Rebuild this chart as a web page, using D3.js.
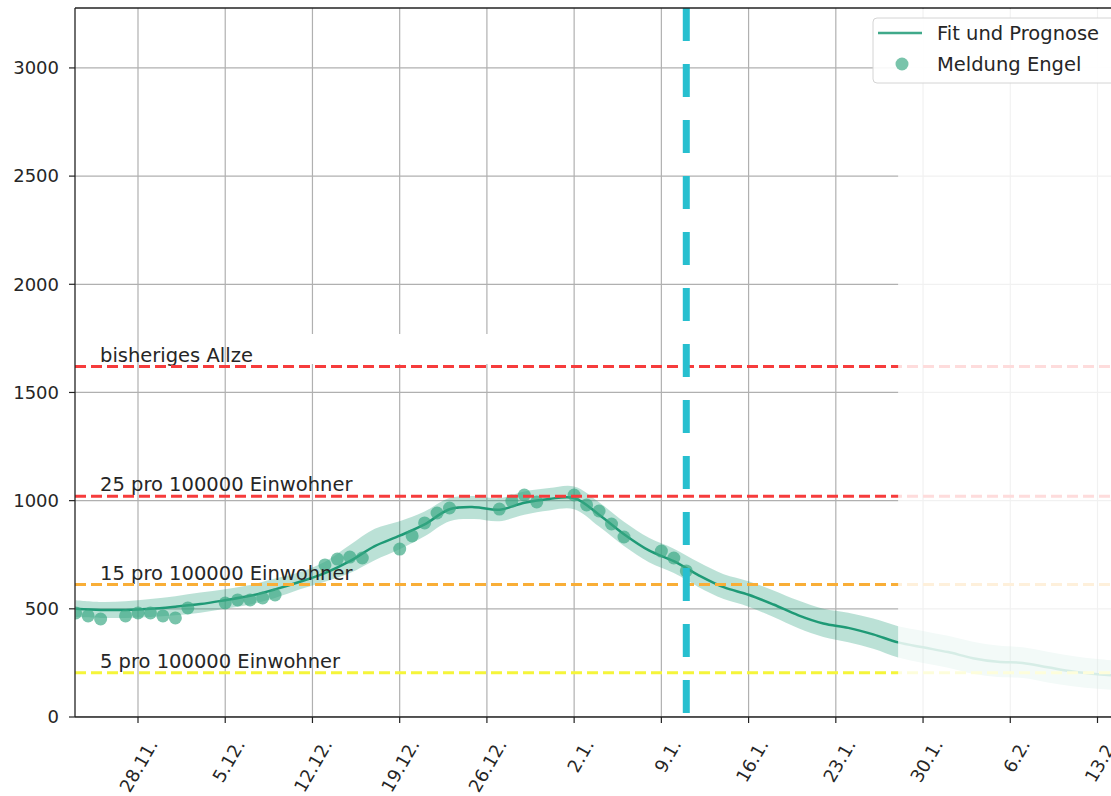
<!DOCTYPE html>
<html>
<head>
<meta charset="utf-8">
<script src="https://cdn.jsdelivr.net/npm/d3@7"></script>
<style>
  body { margin: 0; background: #fff; }
  svg { display: block; }
  text { font-family: "DejaVu Sans", sans-serif; fill: #262626; }
</style>
</head>
<body>
<svg id="chart" width="1111" height="796"></svg>
<script>
// Fit and forecast (every second day) with its uncertainty band
const fitDates = [
  "2020-11-23","2020-11-25","2020-11-27","2020-11-29","2020-12-01","2020-12-03","2020-12-05",
  "2020-12-07","2020-12-09","2020-12-11","2020-12-13","2020-12-15","2020-12-17","2020-12-19",
  "2020-12-21","2020-12-23","2020-12-25","2020-12-27","2020-12-29","2020-12-31","2021-01-02",
  "2021-01-04","2021-01-06","2021-01-08","2021-01-10","2021-01-12","2021-01-14","2021-01-16",
  "2021-01-18","2021-01-20","2021-01-22","2021-01-24","2021-01-26","2021-01-28","2021-01-30",
  "2021-02-01","2021-02-03","2021-02-05","2021-02-07","2021-02-09","2021-02-11","2021-02-13",
  "2021-02-15"
];
const fitValues = [
  500, 495, 495, 500, 510, 522, 540, 560, 590, 625, 665, 720, 790, 838,
  890, 960, 970, 958, 990, 1008, 1012, 935, 845, 770, 720, 655, 600, 565,
  520, 470, 432, 412, 382, 345, 322, 300, 272, 255, 250, 230, 210, 198, 188
];
const fitLower = [
  462, 458, 458, 462, 470, 482, 500, 520, 550, 590, 625, 665, 725, 775,
  835, 905, 915, 905, 935, 955, 960, 880, 790, 715, 665, 600, 545, 510,
  462, 410, 370, 345, 315, 275, 250, 228, 200, 185, 180, 160, 142, 130, 122
];
const fitUpper = [
  540, 532, 535, 545, 558, 575, 590, 610, 640, 670, 718, 795, 870, 905,
  950, 1012, 1022, 1012, 1042, 1058, 1065, 992, 902, 828, 778, 715, 660, 628,
  585, 538, 500, 482, 455, 420, 398, 375, 348, 330, 322, 302, 282, 268, 258
];

// Daily reports
const reportDates = [
  "2020-11-23","2020-11-24","2020-11-25","2020-11-27","2020-11-28","2020-11-29","2020-11-30",
  "2020-12-01","2020-12-02","2020-12-05","2020-12-06","2020-12-07","2020-12-08","2020-12-09",
  "2020-12-13","2020-12-14","2020-12-15","2020-12-16","2020-12-19","2020-12-20","2020-12-21",
  "2020-12-22","2020-12-23","2020-12-27","2020-12-28","2020-12-29","2020-12-30","2021-01-02",
  "2021-01-03","2021-01-04","2021-01-05","2021-01-06","2021-01-09","2021-01-10","2021-01-11"
];
const reportValues = [
  481, 467, 453, 467, 481, 481, 467, 458, 504, 527, 541, 541, 550, 564,
  703, 730, 739, 735, 776, 837, 897, 943, 966, 961, 998, 1026, 994, 1026,
  980, 952, 892, 832, 767, 735, 675
];

// Axis ticks
const xTickDates = [
  "2020-11-28","2020-12-05","2020-12-12","2020-12-19","2020-12-26","2021-01-02",
  "2021-01-09","2021-01-16","2021-01-23","2021-01-30","2021-02-06","2021-02-13"
];
const xTickLabels = ["28.11.","5.12.","12.12.","19.12.","26.12.","2.1.","9.1.","16.1.","23.1.","30.1.","6.2.","13.2."];
const yTickValues = [0, 500, 1000, 1500, 2000, 2500, 3000];

// Reference levels
const thresholdValues = [1620, 1020, 612, 204];
const thresholdLabels = ["bisheriges Allzeithoch", "25 pro 100000 Einwohner", "15 pro 100000 Einwohner", "5 pro 100000 Einwohner"];
const thresholdColors = ["#f63c3c", "#f63c3c", "#f9ae37", "#f5f53a"];

const markerDate = "2021-01-11";
const fadeStartDate = "2021-01-28";

const legendLabels = ["Fit und Prognose", "Meldung Engel"];

// ---------- drawing ----------
function drawChart() {
  const W = 1111, H = 796;
  const pLeft = 75, pTop = 8, pBottom = 717, pRight = 1111;
  const fitColor = "#1f9a76";
  const dotColor = "#3aa883";

  const svg = d3.select("#chart");
  const parse = d3.utcParse("%Y-%m-%d");

  const x = d3.scaleUtc()
    .domain([parse("2020-11-28"), parse("2021-02-13")])
    .range([138, 1097.5]);
  const y = d3.scaleLinear().domain([0, 3277]).range([pBottom, pTop]);

  svg.append("rect").attr("width", W).attr("height", H).attr("fill", "#fff");

  svg.append("defs").append("clipPath").attr("id", "plotClip")
    .append("rect").attr("x", pLeft).attr("y", pTop).attr("width", pRight - pLeft).attr("height", pBottom - pTop);

  const plot = svg.append("g").attr("clip-path", "url(#plotClip)");

  // grid
  plot.append("g").selectAll("line").data(xTickDates).join("line")
    .attr("x1", d => x(parse(d))).attr("x2", d => x(parse(d)))
    .attr("y1", pTop).attr("y2", pBottom)
    .attr("stroke", "#b0b0b0").attr("stroke-width", 1.2);
  plot.append("g").selectAll("line").data(yTickValues).join("line")
    .attr("x1", pLeft).attr("x2", pRight)
    .attr("y1", d => y(d)).attr("y2", d => y(d))
    .attr("stroke", "#b0b0b0").attr("stroke-width", 1.2);

  // band + fit line
  const fitRows = fitDates.map((d, i) => ({ t: parse(d), v: fitValues[i], lo: fitLower[i], hi: fitUpper[i] }));
  plot.append("path").datum(fitRows)
    .attr("d", d3.area().curve(d3.curveCatmullRom).x(d => x(d.t)).y0(d => y(d.lo)).y1(d => y(d.hi)))
    .attr("fill", fitColor).attr("fill-opacity", 0.3);
  plot.append("path").datum(fitRows)
    .attr("d", d3.line().curve(d3.curveCatmullRom).x(d => x(d.t)).y(d => y(d.v)))
    .attr("fill", "none").attr("stroke", fitColor).attr("stroke-width", 2.5);

  // reports
  plot.append("g").selectAll("circle")
    .data(reportDates.map((d, i) => ({ t: parse(d), v: reportValues[i] }))).join("circle")
    .attr("cx", d => x(d.t)).attr("cy", d => y(d.v)).attr("r", 6.5)
    .attr("fill", dotColor).attr("fill-opacity", 0.68);

  // threshold labels
  plot.append("g").selectAll("text").data(thresholdValues).join("text")
    .attr("x", 100).attr("y", d => y(d) - 5)
    .attr("font-size", 19.5)
    .text((d, i) => thresholdLabels[i]);

  // partial white patch over the first label
  plot.append("rect").attr("x", 253).attr("y", 334).attr("width", 237).attr("height", 30).attr("fill", "#fff");

  // threshold lines
  plot.append("g").selectAll("line").data(thresholdValues).join("line")
    .attr("x1", pLeft).attr("x2", pRight)
    .attr("y1", d => y(d)).attr("y2", d => y(d))
    .attr("stroke", (d, i) => thresholdColors[i])
    .attr("stroke-width", 3)
    .attr("stroke-dasharray", "11 5");

  // faded forecast region
  const fadeX = x(parse(fadeStartDate));
  plot.append("rect").attr("x", fadeX).attr("y", pTop + 1).attr("width", pRight - fadeX).attr("height", pBottom - pTop - 2)
    .attr("fill", "#fff").attr("fill-opacity", 0.82);

  // vertical marker
  plot.append("line")
    .attr("x1", x(parse(markerDate))).attr("x2", x(parse(markerDate)))
    .attr("y1", pTop).attr("y2", pBottom - 3)
    .attr("stroke", "#27bfcf").attr("stroke-width", 7)
    .attr("stroke-dasharray", "33 23");

  // spines
  svg.append("line").attr("x1", pLeft).attr("x2", pRight).attr("y1", pTop).attr("y2", pTop).attr("stroke", "#222").attr("stroke-width", 1.3);
  svg.append("line").attr("x1", pLeft).attr("x2", pLeft).attr("y1", pTop).attr("y2", pBottom).attr("stroke", "#222").attr("stroke-width", 1.3);
  svg.append("line").attr("x1", pLeft).attr("x2", pRight).attr("y1", pBottom).attr("y2", pBottom).attr("stroke", "#222").attr("stroke-width", 1.3);

  // y ticks
  const yt = svg.append("g").selectAll("g").data(yTickValues).join("g")
    .attr("transform", d => `translate(0,${y(d)})`);
  yt.append("line").attr("x1", pLeft - 6).attr("x2", pLeft).attr("stroke", "#222").attr("stroke-width", 1.2);
  yt.append("text").attr("x", 59).attr("dy", "0.35em").attr("text-anchor", "end")
    .attr("font-size", 18).text(d => d);

  // x ticks
  const xt = svg.append("g").selectAll("g").data(xTickDates).join("g")
    .attr("transform", d => `translate(${x(parse(d))},${pBottom})`);
  xt.append("line").attr("y1", 0).attr("y2", 6).attr("stroke", "#222").attr("stroke-width", 1.2);
  xt.append("text")
    .attr("transform", "translate(15,24) rotate(-60)")
    .attr("text-anchor", "end").attr("dy", "0.35em")
    .attr("font-size", 18)
    .text((d, i) => xTickLabels[i]);

  // legend
  const lg = svg.append("g");
  lg.append("rect").attr("x", 873).attr("y", 18).attr("width", 260).attr("height", 65).attr("rx", 4)
    .attr("fill", "#fff").attr("fill-opacity", 0.9).attr("stroke", "#d4d4d4");
  lg.append("line").attr("x1", 878).attr("x2", 922).attr("y1", 33).attr("y2", 33)
    .attr("stroke", fitColor).attr("stroke-width", 2.5).attr("stroke-opacity", 0.85);
  lg.append("circle").attr("cx", 902).attr("cy", 64).attr("r", 6.5).attr("fill", dotColor).attr("fill-opacity", 0.68);
  lg.selectAll("text").data(legendLabels).join("text")
    .attr("x", 937).attr("y", (d, i) => 33 + i * 31).attr("dy", "0.35em")
    .attr("font-size", 19.5).text(d => d);
}

drawChart();
</script>
</body>
</html>
